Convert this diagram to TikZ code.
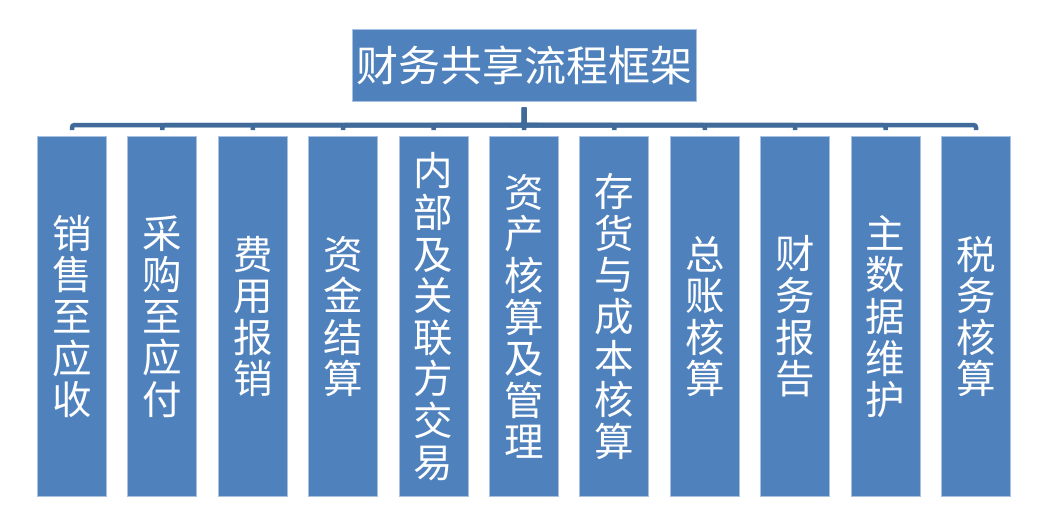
\documentclass[tikz,border=0pt]{standalone}
\usepackage{fontspec}
\newfontfamily\cjk{Noto Sans CJK SC}
\usetikzlibrary{calc, positioning}
\definecolor{boxfill}{HTML}{4F81BD}
\definecolor{boxedge}{HTML}{A9C1E0}
\definecolor{busblue}{HTML}{3F6A9A}
\tikzset{
    item box/.style={draw=boxedge, line width=1pt, fill=boxfill, text=white,
        minimum width=69pt, minimum height=360pt, inner sep=0pt, align=center,
        font=\cjk\fontsize{39.5}{41.6}\selectfont},
    title box/.style={draw=boxedge, line width=1pt, fill=boxfill, text=white,
        minimum width=344pt, minimum height=72pt, inner sep=0pt,
        font=\cjk\fontsize{42}{42}\selectfont},
    bus line/.style={draw=busblue, line width=4.5pt, rounded corners=2.5pt,
        shorten <=6pt, shorten >=6pt},
}
\begin{document}
\begin{tikzpicture}[x=1pt, y=-1pt]
\useasboundingbox (0,0) rectangle (1054,507);

\node[title box] (title) at (524,65) {财务共享流程框架};

\foreach \itemtext [count=\x] in {
    {销\\售\\至\\应\\收},
    {采\\购\\至\\应\\付},
    {费\\用\\报\\销},
    {资\\金\\结\\算},
    {内\\部\\及\\关\\联\\方\\交\\易},
    {资\\产\\核\\算\\及\\管\\理},
    {存\\货\\与\\成\\本\\核\\算},
    {总\\账\\核\\算},
    {财\\务\\报\\告},
    {主\\数\\据\\维\\护},
    {税\\务\\核\\算}}{
    \node[item box, anchor=north] (b\x) at ({72+90.4*(\x-1)},136) {\itemtext};
    \draw[bus line] (title.south) -- ++(0,23.5) -| (b\x.north);
}

\end{tikzpicture}
\end{document}
